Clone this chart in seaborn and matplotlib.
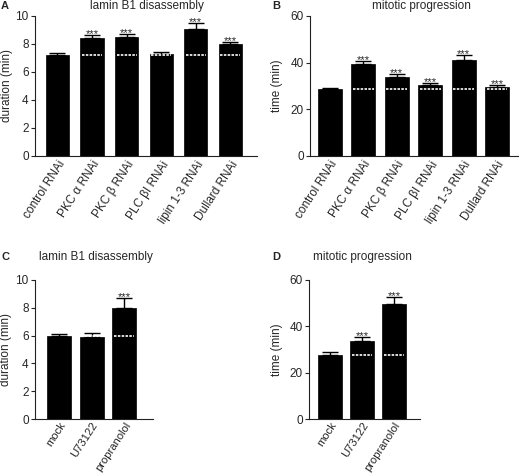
import matplotlib
matplotlib.use("Agg")
import matplotlib.pyplot as plt
import seaborn as sns
import pandas as pd

sns.set_style("ticks")
plt.rcParams['font.family'] = ['Liberation Sans', 'DejaVu Sans']

# ---- data ----
rnai_labels = ["control RNAi", "PKC \u03b1 RNAi", "PKC \u03b2 RNAi", "PLC \u03b2I RNAi", "lipin 1-3 RNAi", "Dullard RNAi"]
lamin_rnai = [7.2, 8.45, 8.5, 7.3, 9.1, 8.0]
lamin_rnai_err = [0.15, 0.2, 0.2, 0.15, 0.4, 0.15]
lamin_rnai_sig = [False, True, True, False, True, True]

mitotic_rnai = [28.6, 39.6, 34.0, 30.6, 41.0, 29.6]
mitotic_rnai_err = [0.4, 1.3, 1.0, 0.8, 2.5, 0.9]
mitotic_rnai_sig = [False, True, True, True, True, True]

drug_labels = ["mock", "U73122", "propranolol"]
lamin_drug = [5.95, 5.9, 8.0]
lamin_drug_err = [0.2, 0.3, 0.7]
lamin_drug_sig = [False, False, True]

mitotic_drug = [27.8, 33.5, 49.7]
mitotic_drug_err = [1.0, 2.0, 3.0]
mitotic_drug_sig = [False, True, True]

fig = plt.figure(figsize=(5.2, 4.74), dpi=100)
W, H = 520, 474

def ax_at(l, r, t, b):
    return fig.add_axes([l / W, 1 - b / H, (r - l) / W, (b - t) / H])

def panel(ax, labels, vals, errs, sig, width, ylim, yticks, ylabel, xlim, lab_x,
          xfs=8.5, xpad=2):
    df = pd.DataFrame({"cond": labels, "val": vals})
    sns.barplot(data=df, x="cond", y="val", color="black", saturation=1,
                width=width, errorbar=None, ax=ax, edgecolor="black", linewidth=0.5)
    centers = [p.get_x() + p.get_width() / 2 for p in ax.patches]
    ax.errorbar(centers, vals, yerr=[[0] * len(vals), errs], fmt="none",
                ecolor="black", elinewidth=1.0, capsize=5.5, capthick=1.0)
    base = vals[0]
    for i, p in enumerate(ax.patches):
        if i == 0:
            continue
        m = p.get_width() * 0.07
        ax.hlines(base, p.get_x() + m, p.get_x() + p.get_width() - m,
                  colors="white", linestyles=(0, (1.5, 0.8)), linewidth=1.2, zorder=5)
    for c, v, e, s in zip(centers, vals, errs, sig):
        if s:
            ax.annotate("***", (c, v + e), xytext=(0, -3), textcoords="offset points",
                        ha="center", va="bottom", fontsize=8)
    ax.set_ylim(*ylim)
    ax.set_yticks(yticks)
    ax.set_xlim(*xlim)
    ax.set_xlabel("")
    ax.set_ylabel(ylabel, fontsize=8.5)
    ax.yaxis.set_label_coords(lab_x, 0.5)
    ax.tick_params(axis="y", labelsize=8.5, length=3, width=0.8, pad=1.5)
    ax.tick_params(axis="x", length=0, pad=xpad)
    ax.set_xticks(range(len(labels)))
    ax.set_xticklabels(labels, rotation=57, ha="right", rotation_mode="anchor", fontsize=xfs)
    for sp in ["top", "right"]:
        ax.spines[sp].set_visible(False)
    for sp in ["left", "bottom"]:
        ax.spines[sp].set_linewidth(0.8)
        ax.spines[sp].set_color("#222222")

axA = ax_at(35, 257, 16, 156)
panel(axA, rnai_labels, lamin_rnai, lamin_rnai_err, lamin_rnai_sig, 0.67,
      (0, 10), [0, 2, 4, 6, 8, 10], "duration (min)", (-0.65, 5.77), -0.099)
axB = ax_at(310, 518, 16, 156)
panel(axB, rnai_labels, mitotic_rnai, mitotic_rnai_err, mitotic_rnai_sig, 0.72,
      (0, 60), [0, 20, 40, 60], "time (min)", (-0.6, 5.63), -0.13)
axC = ax_at(35, 153, 280, 419)
panel(axC, drug_labels, lamin_drug, lamin_drug_err, lamin_drug_sig, 0.74,
      (0, 10), [0, 2, 4, 6, 8, 10], "duration (min)", (-0.74, 2.89), -0.196,
      xfs=8.1, xpad=1)
axD = ax_at(309, 420, 280, 419)
panel(axD, drug_labels, mitotic_drug, mitotic_drug_err, mitotic_drug_sig, 0.75,
      (0, 60), [0, 20, 40, 60], "time (min)", (-0.65, 2.81), -0.234,
      xfs=8.1, xpad=1)

def ftext(x, y, s, **kw):
    fig.text(x / W, 1 - y / H, s, va="center", **kw)

ftext(1, 6, "A", fontsize=8, fontweight="bold", ha="left")
ftext(147, 6, "lamin B1 disassembly", fontsize=8.5, ha="center")
ftext(272, 6, "B", fontsize=8, fontweight="bold", ha="left")
ftext(421, 6, "mitotic progression", fontsize=8.5, ha="center")
ftext(1, 257, "C", fontsize=8, fontweight="bold", ha="left")
ftext(96, 257, "lamin B1 disassembly", fontsize=8.5, ha="center")
ftext(272, 257, "D", fontsize=8, fontweight="bold", ha="left")
ftext(362, 257, "mitotic progression", fontsize=8.5, ha="center")

fig.savefig("out.png", dpi=100, facecolor="white")
